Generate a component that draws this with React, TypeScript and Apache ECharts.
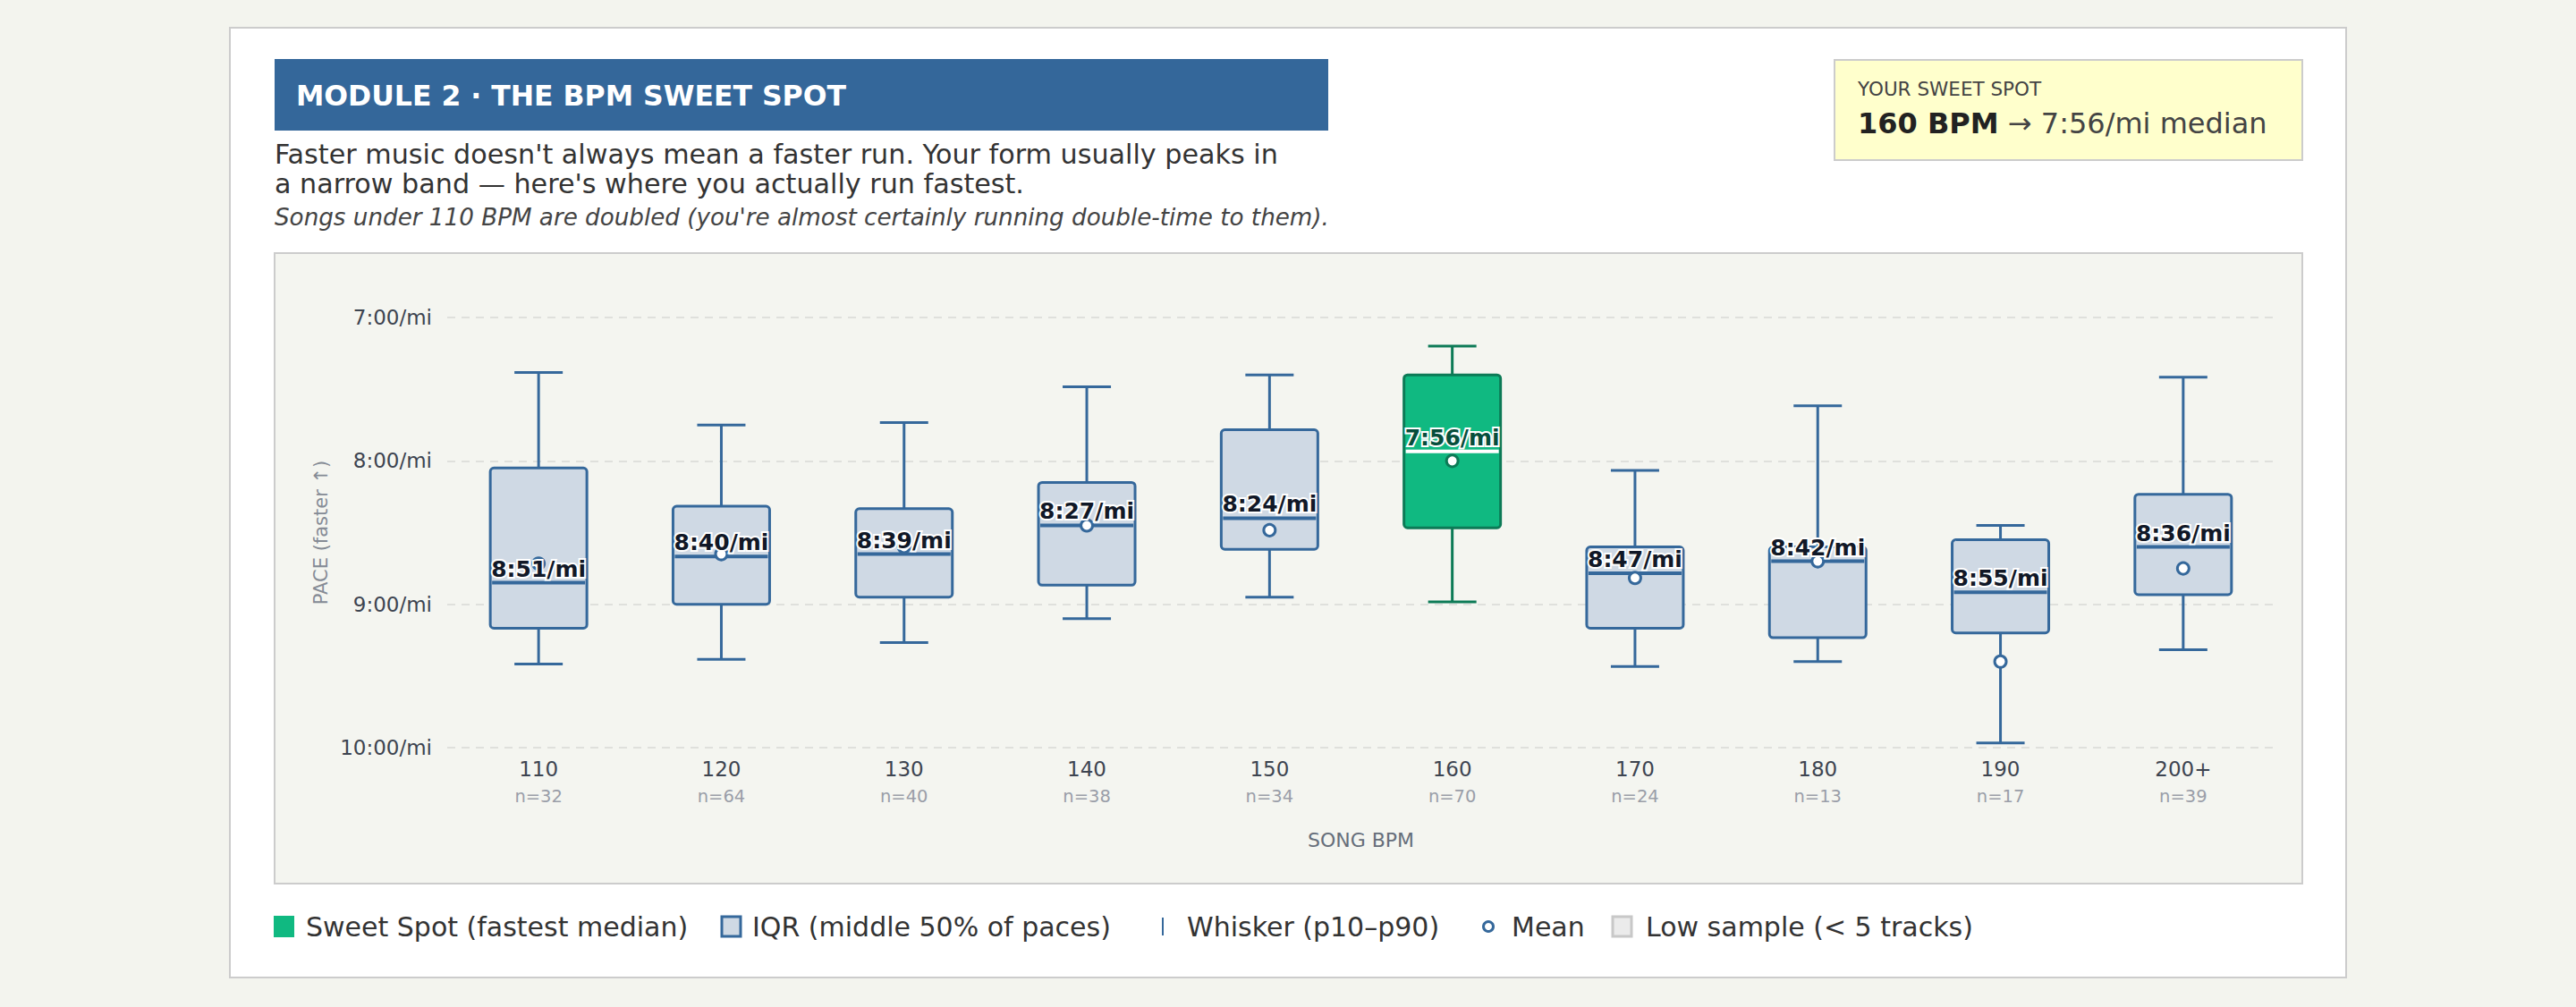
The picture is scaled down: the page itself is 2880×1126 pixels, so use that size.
import React, { useEffect, useRef } from "react";
import * as echarts from "echarts";

// ---- data (pace in seconds per mile) ----
const categories = ["110", "120", "130", "140", "150", "160", "170", "180", "190", "200+"];
const trackCounts = [32, 64, 40, 38, 34, 70, 24, 13, 17, 39];
const p10 = [443, 465, 464, 449, 444, 432, 484, 457, 507, 445];
const q1 = [483, 499, 500, 489, 467, 444, 516, 516, 513, 494];
const median = [531, 520, 519, 507, 504, 476, 527, 522, 535, 516];
const q3 = [550, 540, 537, 532, 517, 508, 550, 554, 552, 536];
const p90 = [565, 563, 556, 546, 537, 539, 566, 564, 598, 559];
const mean = [523, 519, 516, 507, 509, 480, 529, 522, 564, 525];
const sweetIndex = 5;
const yTicks = [420, 480, 540, 600];

const FONT = "'DejaVu Sans', Verdana, sans-serif";
const BLUE = "#35689b";
const BOX_FILL = "#cfd9e4";
const GREEN = "#10b981";
const GREEN_DARK = "#0c7a56";

function fmtPace(s: number): string {
  const m = Math.floor(s / 60);
  const sec = Math.round(s - m * 60);
  return m + ":" + (sec < 10 ? "0" + sec : sec) + "/mi";
}

export default function App() {
  const ref = useRef<HTMLDivElement>(null);

  useEffect(() => {
    document.body.style.margin = "0";
    const chart = echarts.init(ref.current!, null, { renderer: "svg" });

    const boxData = categories.map((c, i) => [i, p10[i], q1[i], median[i], q3[i], p90[i], mean[i]]);

    const legendY = 1036;
    const legendText = (x: number, text: string) => ({
      type: "text",
      x,
      y: legendY,
      style: { text, font: "30px " + FONT, fill: "#333333", verticalAlign: "middle", align: "left" },
    });

    const option: any = {
      animation: false,
      backgroundColor: "#f3f4ee",
      graphic: [
        {
          type: "rect",
          shape: { x: 257, y: 31, width: 2366, height: 1062 },
          style: { fill: "#ffffff", stroke: "#cccccc", lineWidth: 2 },
          z: -10,
        },
        {
          type: "rect",
          shape: { x: 307, y: 66, width: 1178, height: 80 },
          style: { fill: "#34679a" },
          z: -9,
        },
        {
          type: "text",
          x: 331,
          y: 107,
          style: {
            text: "MODULE 2 · THE BPM SWEET SPOT",
            font: "bold 31.5px " + FONT,
            fill: "#ffffff",
            verticalAlign: "middle",
          },
        },
        {
          type: "text",
          x: 307,
          y: 172,
          style: {
            text: "Faster music doesn't always mean a faster run. Your form usually peaks in",
            font: "30.2px " + FONT,
            fill: "#333333",
            verticalAlign: "middle",
          },
        },
        {
          type: "text",
          x: 307,
          y: 205,
          style: {
            text: "a narrow band — here's where you actually run fastest.",
            font: "30.2px " + FONT,
            fill: "#333333",
            verticalAlign: "middle",
          },
        },
        {
          type: "text",
          x: 307,
          y: 243,
          style: {
            text: "Songs under 110 BPM are doubled (you're almost certainly running double-time to them).",
            font: "italic 26.2px " + FONT,
            fill: "#444444",
            verticalAlign: "middle",
          },
        },
        {
          type: "rect",
          shape: { x: 2051, y: 67, width: 523, height: 112 },
          style: { fill: "#ffffcc", stroke: "#cccccc", lineWidth: 2 },
          z: -9,
        },
        {
          type: "text",
          x: 2077,
          y: 99,
          style: {
            text: "YOUR SWEET SPOT",
            font: "21.5px " + FONT,
            fill: "#444444",
            verticalAlign: "middle",
          },
        },
        {
          type: "text",
          x: 2077,
          y: 138,
          style: {
            text: "{b|" + categories[sweetIndex] + " BPM}{n| → " + fmtPace(median[sweetIndex]) + " median}",
            verticalAlign: "middle",
            rich: {
              b: { font: "bold 32px " + FONT, fill: "#222222" },
              n: { font: "32px " + FONT, fill: "#444444" },
            },
          },
        },
        {
          type: "rect",
          shape: { x: 307, y: 283, width: 2267, height: 705 },
          style: { fill: "#f4f5f0", stroke: "#cccccc", lineWidth: 2 },
          z: -9,
        },
        // legend
        { type: "rect", shape: { x: 306, y: 1024, width: 23, height: 24 }, style: { fill: GREEN } },
        legendText(342, "Sweet Spot (fastest median)"),
        {
          type: "rect",
          shape: { x: 807, y: 1025, width: 21, height: 22 },
          style: { fill: BOX_FILL, stroke: BLUE, lineWidth: 3 },
        },
        legendText(841, "IQR (middle 50% of paces)"),
        {
          type: "line",
          shape: { x1: 1300, y1: 1026, x2: 1300, y2: 1046 },
          style: { stroke: BLUE, lineWidth: 2 },
        },
        legendText(1327, "Whisker (p10–p90)"),
        {
          type: "circle",
          shape: { cx: 1664, cy: legendY, r: 5.5 },
          style: { fill: "#ffffff", stroke: BLUE, lineWidth: 3 },
        },
        legendText(1690, "Mean"),
        {
          type: "rect",
          shape: { x: 1803, y: 1025, width: 21, height: 22 },
          style: { fill: "#ebebeb", stroke: "#c8c8c8", lineWidth: 3 },
        },
        legendText(1840, "Low sample (< 5 tracks)"),
      ],
      grid: { left: 500, top: 355, width: 2043, height: 481 },
      xAxis: {
        type: "category",
        data: categories,
        axisLine: { show: false },
        axisTick: { show: false },
        splitLine: { show: false },
        axisLabel: {
          margin: 8,
          formatter: (v: string, i: number) => "{a|" + v + "}\n{b|n=" + trackCounts[i] + "}",
          rich: {
            a: { fontFamily: FONT, fontSize: 23, color: "#3d4450", lineHeight: 31 },
            b: { fontFamily: FONT, fontSize: 19.5, color: "#9a9ea8", lineHeight: 31 },
          },
        },
        name: "SONG BPM",
        nameLocation: "middle",
        nameGap: 92,
        nameTextStyle: { fontFamily: FONT, fontSize: 22, color: "#666e7a" },
      },
      yAxis: {
        type: "value",
        inverse: true,
        min: 420,
        max: 600,
        interval: 60,
        axisLine: { show: false },
        axisTick: { show: false },
        splitLine: { show: true, lineStyle: { color: "#dfe0dc", width: 2, type: [9, 7] } },
        axisLabel: {
          margin: 17,
          fontFamily: FONT,
          fontSize: 23,
          color: "#3d4450",
          formatter: (v: number) => (yTicks.indexOf(v) >= 0 ? fmtPace(v) : ""),
        },
        name: "PACE (faster ↑)",
        nameLocation: "middle",
        nameGap: 124,
        nameTextStyle: { fontFamily: FONT, fontSize: 21, color: "#858b95" },
      },
      series: [
        {
          type: "custom",
          data: boxData,
          encode: { x: 0, y: [1, 2, 3, 4, 5, 6] },
          renderItem: (params: any, api: any) => {
            const i = api.value(0);
            const sweet = i === sweetIndex;
            const stroke = sweet ? GREEN_DARK : BLUE;
            const fill = sweet ? GREEN : BOX_FILL;
            const medColor = sweet ? "#ffffff" : BLUE;
            const pLo = api.coord([i, api.value(1)]);
            const pQ1 = api.coord([i, api.value(2)]);
            const pMed = api.coord([i, api.value(3)]);
            const pQ3 = api.coord([i, api.value(4)]);
            const pHi = api.coord([i, api.value(5)]);
            const pMean = api.coord([i, api.value(6)]);
            const cx = pMed[0];
            const bw = 108;
            const cw = 54;
            return {
              type: "group",
              children: [
                {
                  type: "line",
                  shape: { x1: cx, y1: pLo[1], x2: cx, y2: pQ1[1] },
                  style: { stroke, lineWidth: 3 },
                },
                {
                  type: "line",
                  shape: { x1: cx, y1: pQ3[1], x2: cx, y2: pHi[1] },
                  style: { stroke, lineWidth: 3 },
                },
                {
                  type: "line",
                  shape: { x1: cx - cw / 2, y1: pLo[1], x2: cx + cw / 2, y2: pLo[1] },
                  style: { stroke, lineWidth: 3 },
                },
                {
                  type: "line",
                  shape: { x1: cx - cw / 2, y1: pHi[1], x2: cx + cw / 2, y2: pHi[1] },
                  style: { stroke, lineWidth: 3 },
                },
                {
                  type: "rect",
                  shape: { x: cx - bw / 2, y: pQ1[1], width: bw, height: pQ3[1] - pQ1[1], r: 4 },
                  style: { fill, stroke, lineWidth: 3 },
                },
                {
                  type: "line",
                  shape: { x1: cx - bw / 2 + 2, y1: pMed[1], x2: cx + bw / 2 - 2, y2: pMed[1] },
                  style: { stroke: medColor, lineWidth: 4 },
                },
                {
                  type: "circle",
                  shape: { cx, cy: pMean[1], r: 6.5 },
                  style: { fill: "#ffffff", stroke, lineWidth: 3 },
                },
                {
                  type: "text",
                  x: cx,
                  y: pMed[1] - 3,
                  style: {
                    text: fmtPace(api.value(3)),
                    font: "bold 25px " + FONT,
                    fill: sweet ? "#064e3b" : "#111827",
                    stroke: "#ffffff",
                    lineWidth: 4,
                    align: "center",
                    verticalAlign: "bottom",
                  },
                },
              ],
            };
          },
        },
      ],
    };

    chart.setOption(option);
    return () => chart.dispose();
  }, []);

  return <div ref={ref} style={{ width: 2880, height: 1126 }} />;
}
